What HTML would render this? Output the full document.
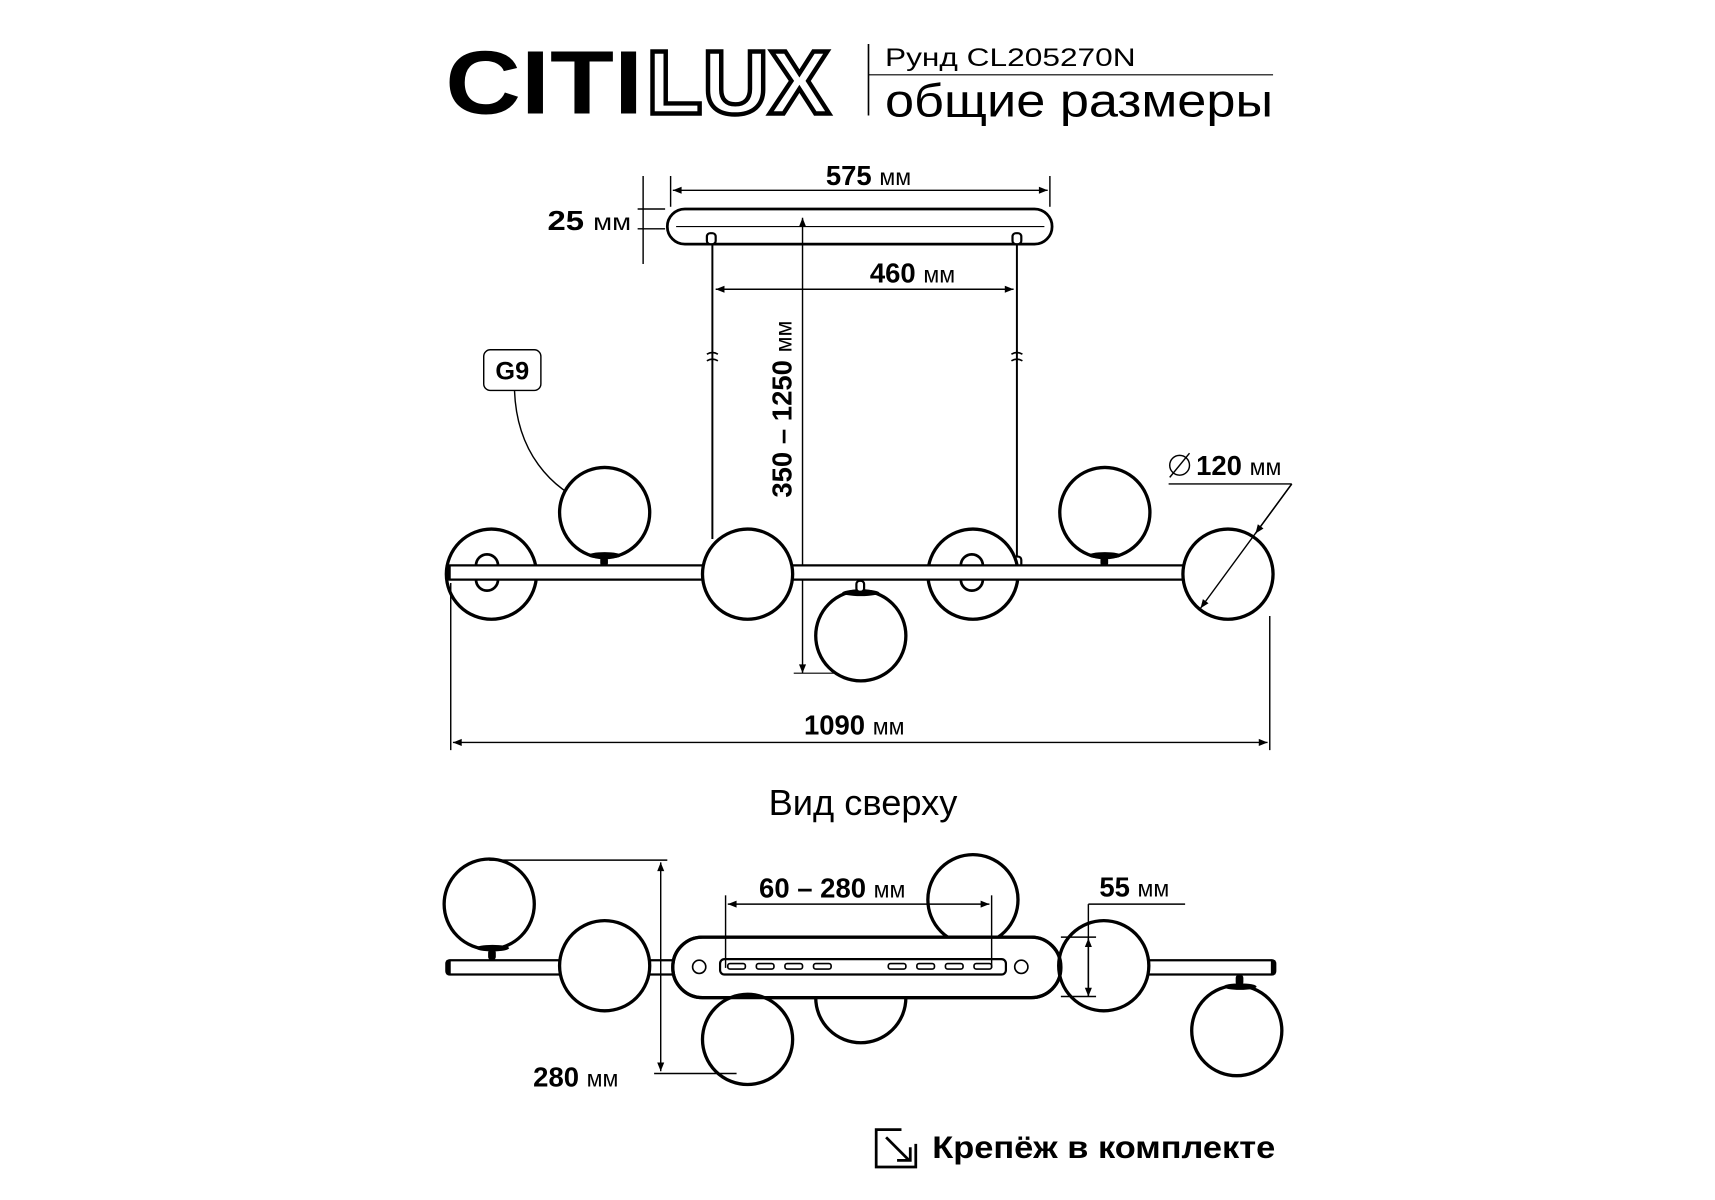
<!DOCTYPE html>
<html><head><meta charset="utf-8"><style>html,body{margin:0;padding:0;background:#fff}svg{display:block}</style></head>
<body>
<svg width="1715" height="1200" viewBox="0 0 1560 1091" preserveAspectRatio="none" xmlns="http://www.w3.org/2000/svg" font-family="'Liberation Sans', 'DejaVu Sans', sans-serif">
<defs>
<marker id="a" viewBox="0 0 10 10" refX="10" refY="5" markerWidth="10" markerHeight="8" orient="auto-start-reverse" markerUnits="userSpaceOnUse"><path d="M0,1 L10,5 L0,9 z" fill="#000"/></marker>
</defs>
<!-- header -->
<text x="405" y="103" font-size="82" font-weight="bold" textLength="180" lengthAdjust="spacingAndGlyphs">CITI</text>
<text x="588" y="103" font-size="82" font-weight="bold" fill="#fff" stroke="#000" stroke-width="4" textLength="167" lengthAdjust="spacingAndGlyphs">LUX</text>
<line x1="790" y1="40" x2="790" y2="105" stroke="#000" stroke-width="1.5"/>
<line x1="790" y1="68" x2="1158" y2="68" stroke="#000" stroke-width="1"/>
<text x="805" y="60" font-size="23" textLength="228" lengthAdjust="spacingAndGlyphs">Рунд CL205270N</text>
<text x="805" y="106" font-size="42" textLength="353" lengthAdjust="spacingAndGlyphs">общие размеры</text>

<g stroke="#000" fill="none" stroke-width="1.3">
<!-- plate -->
<rect x="607" y="190" width="350" height="32" rx="16" stroke-width="2.5" fill="#fff"/>
<line x1="615" y1="206" x2="950" y2="206" stroke-width="1"/>
<!-- 575 -->
<line x1="610" y1="160" x2="610" y2="188"/><line x1="955" y1="160" x2="955" y2="188"/>
<line x1="612" y1="173" x2="953" y2="173" marker-start="url(#a)" marker-end="url(#a)"/>
<!-- 25 -->
<line x1="585" y1="160" x2="585" y2="240"/>
<line x1="580" y1="190" x2="605" y2="190"/><line x1="580" y1="208" x2="605" y2="208"/>
<!-- cables -->
<line x1="648" y1="222" x2="648" y2="490" stroke-width="1.8"/>
<line x1="925" y1="222" x2="925" y2="508" stroke-width="1.8"/>
<path d="M643 322 q5 -3 10 0 M643 328 q5 -3 10 0 M920 322 q5 -3 10 0 M920 328 q5 -3 10 0" stroke-width="1.5"/>
<!-- 460 -->
<line x1="651" y1="263" x2="922" y2="263" marker-start="url(#a)" marker-end="url(#a)"/>
<!-- 350-1250 -->
<line x1="730" y1="198" x2="730" y2="612" marker-start="url(#a)" marker-end="url(#a)"/>
<line x1="722" y1="612" x2="780" y2="612" stroke-width="1"/>
</g>
<rect x="643" y="212" width="8" height="10" rx="3" fill="#fff" stroke="#000" stroke-width="2"/>
<rect x="921" y="212" width="8" height="10" rx="3" fill="#fff" stroke="#000" stroke-width="2"/>
<rect x="921" y="506" width="8" height="10" rx="3" fill="#fff" stroke="#000" stroke-width="2"/>

<text x="790" y="168" font-size="25" font-weight="bold" text-anchor="middle">575 <tspan font-weight="normal" font-size="21">мм</tspan></text>
<text x="498" y="209" font-size="25" font-weight="bold" textLength="76" lengthAdjust="spacingAndGlyphs">25 <tspan font-weight="normal" font-size="21">мм</tspan></text>
<text x="830" y="257" font-size="25" font-weight="bold" text-anchor="middle">460 <tspan font-weight="normal" font-size="21">мм</tspan></text>
<text transform="translate(720,372) rotate(-90)" font-size="25" font-weight="bold" text-anchor="middle">350 – 1250 <tspan font-weight="normal" font-size="21">мм</tspan></text>

<!-- G9 -->
<rect x="440" y="318" width="52" height="37" rx="6" fill="#fff" stroke="#000" stroke-width="1.3"/>
<text x="466" y="345" font-size="23" font-weight="bold" text-anchor="middle">G9</text>
<path d="M468 355 C470 410 500 445 540 460" fill="none" stroke="#000" stroke-width="1.3" marker-end="url(#a)"/>

<!-- side view globes -->
<g stroke="#000" stroke-width="3" fill="#fff">
<circle cx="447" cy="522" r="41"/>
<circle cx="885" cy="522" r="41"/>
<circle cx="550" cy="466" r="41"/>
<circle cx="1005" cy="466" r="41"/>
</g>
<!-- bar -->
<rect x="406" y="514" width="740" height="13" rx="3" fill="#fff" stroke="#000" stroke-width="2"/>
<rect x="406" y="514" width="4" height="13" fill="#000"/>
<g stroke="#000" stroke-width="2.5" fill="none">
<path d="M433 514 a10 10 0 0 1 20 0 M433 527 a10 10 0 0 0 20 0"/>
<path d="M874 514 a10 10 0 0 1 20 0 M874 527 a10 10 0 0 0 20 0"/>
</g>
<g stroke="#000" stroke-width="3" fill="#fff">
<circle cx="680" cy="522" r="41"/>
<circle cx="1117" cy="522" r="41"/>
<circle cx="783" cy="578" r="41"/>
</g>
<g fill="#000">
<ellipse cx="550" cy="505" rx="15" ry="3"/><rect x="546" y="506" width="7" height="9" rx="3"/>
<ellipse cx="1005" cy="505" rx="15" ry="3"/><rect x="1001" y="506" width="7" height="9" rx="3"/>
<ellipse cx="783" cy="539" rx="17" ry="3"/><rect x="779" y="528" width="7" height="10" rx="3" fill="#fff" stroke="#000" stroke-width="2"/>
</g>

<!-- 120 -->
<g stroke="#000" stroke-width="1.3" fill="none">
<line x1="1063" y1="440" x2="1175" y2="440"/>
<line x1="1175" y1="440" x2="1092" y2="553" marker-end="url(#a)"/>
<line x1="1175" y1="440" x2="1142" y2="485" marker-end="url(#a)"/>
<circle cx="1073" cy="423" r="9"/><line x1="1064" y1="434" x2="1082" y2="412"/>
<!-- 1090 -->
<line x1="410" y1="530" x2="410" y2="682"/><line x1="1155" y1="560" x2="1155" y2="682"/>
<line x1="412" y1="675" x2="1153" y2="675" marker-start="url(#a)" marker-end="url(#a)"/>
</g>
<text x="1088" y="432" font-size="25" font-weight="bold">120 <tspan font-weight="normal" font-size="21">мм</tspan></text>
<text x="777" y="668" font-size="25" font-weight="bold" text-anchor="middle">1090 <tspan font-weight="normal" font-size="21">мм</tspan></text>

<text x="785" y="741" font-size="33" text-anchor="middle">Вид сверху</text>

<!-- top view -->
<g stroke="#000" stroke-width="3" fill="#fff">
<circle cx="445" cy="822" r="41"/>
<circle cx="885" cy="818" r="41"/>
<circle cx="783" cy="900" r="41"/>
</g>
<rect x="406" y="873" width="754" height="13" rx="3" fill="#fff" stroke="#000" stroke-width="2"/>
<rect x="406" y="873" width="4" height="13" fill="#000"/>
<rect x="1156" y="873" width="4" height="13" fill="#000"/>
<rect x="612" y="852" width="353" height="55" rx="27" fill="#fff" stroke="#000" stroke-width="3"/>
<rect x="655" y="872" width="260" height="14" rx="4" fill="#fff" stroke="#000" stroke-width="2"/>
<g fill="none" stroke="#000" stroke-width="1.5">
<rect x="662" y="876" width="16" height="5" rx="2"/><rect x="688" y="876" width="16" height="5" rx="2"/><rect x="714" y="876" width="16" height="5" rx="2"/><rect x="740" y="876" width="16" height="5" rx="2"/>
<rect x="808" y="876" width="16" height="5" rx="2"/><rect x="834" y="876" width="16" height="5" rx="2"/><rect x="860" y="876" width="16" height="5" rx="2"/><rect x="886" y="876" width="16" height="5" rx="2"/>
<circle cx="636" cy="879" r="6"/><circle cx="929" cy="879" r="6"/>
</g>
<g stroke="#000" stroke-width="3" fill="#fff">
<circle cx="550" cy="878" r="41"/>
<circle cx="680" cy="945" r="41"/>
<circle cx="1004" cy="878" r="41"/>
<circle cx="1125" cy="937" r="41"/>
</g>
<path d="M741 907 a42 42 0 0 0 84 0 z" fill="#fff"/>
<path d="M742 907 a41 41 0 0 0 82 0" fill="none" stroke="#000" stroke-width="3"/>
<rect x="612" y="852" width="353" height="55" rx="27" fill="none" stroke="#000" stroke-width="3"/>
<g fill="#000">
<ellipse cx="448" cy="862" rx="15" ry="3"/><rect x="444" y="863" width="7" height="10" rx="3"/>
<ellipse cx="1128" cy="897" rx="15" ry="3"/><rect x="1124" y="886" width="7" height="10" rx="3"/>
</g>
<g stroke="#000" stroke-width="1.3" fill="none">
<line x1="445" y1="782" x2="607" y2="782"/><line x1="670" y1="976" x2="595" y2="976"/>
<line x1="601" y1="784" x2="601" y2="974" marker-start="url(#a)" marker-end="url(#a)"/>
<line x1="660" y1="814" x2="660" y2="880"/><line x1="902" y1="814" x2="902" y2="880"/>
<line x1="662" y1="822" x2="900" y2="822" marker-start="url(#a)" marker-end="url(#a)"/>
<line x1="965" y1="852" x2="997" y2="852"/><line x1="965" y1="906" x2="997" y2="906"/>
<line x1="990" y1="822" x2="990" y2="906" marker-end="url(#a)"/>
<line x1="990" y1="906" x2="990" y2="853" marker-end="url(#a)"/>
<line x1="990" y1="822" x2="1078" y2="822"/>
</g>
<text x="485" y="988" font-size="25" font-weight="bold">280 <tspan font-weight="normal" font-size="21">мм</tspan></text>
<text x="757" y="816" font-size="25" font-weight="bold" text-anchor="middle">60 – 280 <tspan font-weight="normal" font-size="21">мм</tspan></text>
<text x="1000" y="815" font-size="25" font-weight="bold">55 <tspan font-weight="normal" font-size="21">мм</tspan></text>

<!-- footer -->
<g stroke="#000" stroke-width="2.5" fill="none">
<path d="M820 1027 L797 1027 L797 1061 L833 1061 L833 1040"/>
<line x1="806" y1="1034" x2="827" y2="1055"/>
<path d="M816 1055 L828 1055 L828 1043"/>
</g>
<text x="848" y="1053" font-size="29" font-weight="bold" textLength="312" lengthAdjust="spacingAndGlyphs">Крепёж в комплекте</text>
</svg>
</body></html>
